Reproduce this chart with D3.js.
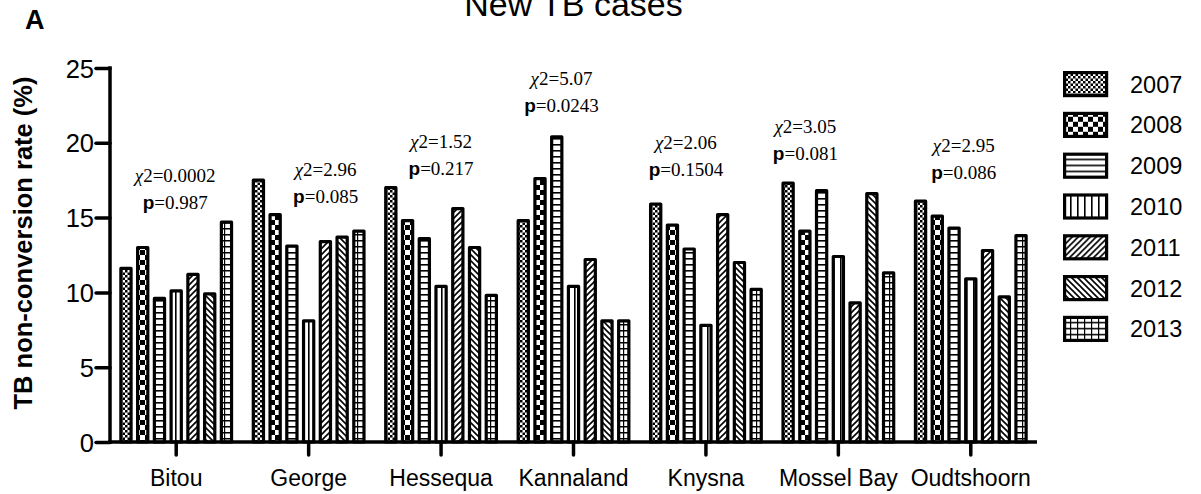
<!DOCTYPE html>
<html>
<head>
<meta charset="utf-8">
<script src="https://cdn.jsdelivr.net/npm/d3@7"></script>
<style>
  body { margin: 0; background: #fff; }
  svg { display: block; }
  text { font-family: "Liberation Sans", Arial, sans-serif; fill: #000; }
  .serif { font-family: "Liberation Serif", "Times New Roman", serif; }
</style>
</head>
<body>
<div class="graphContainer"></div>
<script>
// Chart size
const w = 1201;
const h = 494;

// Data
const districts = ["Bitou", "George", "Hessequa", "Kannaland", "Knysna", "Mossel Bay", "Oudtshoorn"];
const years = ["2007", "2008", "2009", "2010", "2011", "2012", "2013"];
const rate2007 = [11.6, 17.5, 17.0, 14.8, 15.9, 17.3, 16.1];
const rate2008 = [13.0, 15.2, 14.8, 17.6, 14.5, 14.1, 15.1];
const rate2009 = [9.6, 13.1, 13.6, 20.4, 12.9, 16.8, 14.3];
const rate2010 = [10.1, 8.1, 10.4, 10.4, 7.8, 12.4, 10.9];
const rate2011 = [11.2, 13.4, 15.6, 12.2, 15.2, 9.3, 12.8];
const rate2012 = [9.9, 13.7, 13.0, 8.1, 12.0, 16.6, 9.7];
const rate2013 = [14.7, 14.1, 9.8, 8.1, 10.2, 11.3, 13.8];
const chiValues = ["0.0002", "2.96", "1.52", "5.07", "2.06", "3.05", "2.95"];
const pValues = ["0.987", "0.085", "0.217", "0.0243", "0.1504", "0.081", "0.086"];
const yTicks = [0, 5, 10, 15, 20, 25];

// where the chi2/p labels sit: x offset from group centre (px), height in axis units
const labelDx = [-1, 17, 0, -12, -20, -33, -7];
const labelAt = [17.8, 18.2, 20.1, 24.3, 20.05, 21.1, 19.85];

const series = [rate2007, rate2008, rate2009, rate2010, rate2011, rate2012, rate2013];
const rows = [];
districts.forEach((d, i) => {
	years.forEach((yr, j) => rows.push({district: d, year: yr, value: series[j][i]}));
});

const svg = d3.select(".graphContainer").append("svg")
	.attr("width", w)
	.attr("height", h);

// ---- fill patterns (one per year)
const defs = svg.append("defs");
function pattern(id, pw, ph) {
	const p = defs.append("pattern")
		.attr("id", id)
		.attr("patternUnits", "userSpaceOnUse")
		.attr("width", pw)
		.attr("height", ph);
	p.append("rect").attr("width", pw).attr("height", ph).attr("fill", "#fff");
	return p;
}
let pt = pattern("p2007", 5, 5);
pt.append("rect").attr("width", 2.5).attr("height", 2.5).attr("fill", "#000");
pt.append("rect").attr("x", 2.5).attr("y", 2.5).attr("width", 2.5).attr("height", 2.5).attr("fill", "#000");

pt = pattern("p2008", 10, 10);
pt.append("rect").attr("width", 5).attr("height", 5).attr("fill", "#000");
pt.append("rect").attr("x", 5).attr("y", 5).attr("width", 5).attr("height", 5).attr("fill", "#000");

pt = pattern("p2009", 6, 6);
pt.append("rect").attr("width", 6).attr("height", 1.6).attr("fill", "#000");

pt = pattern("p2010", 7, 7);
pt.append("rect").attr("width", 1.6).attr("height", 7).attr("fill", "#000");

pt = pattern("p2011", 6, 6);
pt.append("path").attr("d", "M0,6L6,0M-1.5,1.5L1.5,-1.5M4.5,7.5L7.5,4.5")
	.attr("stroke", "#000").attr("stroke-width", 1.6);

pt = pattern("p2012", 6, 6);
pt.append("path").attr("d", "M0,0L6,6M-1.5,4.5L1.5,7.5M4.5,-1.5L7.5,1.5")
	.attr("stroke", "#000").attr("stroke-width", 1.6);

pt = pattern("p2013", 7, 6);
pt.append("rect").attr("width", 7).attr("height", 1.5).attr("fill", "#000");
pt.append("rect").attr("width", 1.2).attr("height", 6).attr("fill", "#000");

// ---- scales
const x0 = d3.scaleBand()
	.domain(districts)
	.range([110, 1037])
	.paddingInner(0.14)
	.paddingOuter(0.07);

const x1 = d3.scaleBand()
	.domain(years)
	.range([0, x0.bandwidth()])
	.paddingInner(0.2);

const y = d3.scaleLinear()
	.domain([0, 25])
	.range([442, 68]);

// ---- bars
svg.append("g").selectAll("rect")
	.data(rows)
	.enter()
	.append("rect")
	.attr("x", d => x0(d.district) + x1(d.year) + 1.6)
	.attr("y", d => y(d.value))
	.attr("width", x1.bandwidth() - 3.2)
	.attr("height", d => y(0) - y(d.value))
	.attr("fill", d => "url(#p" + d.year + ")")
	.attr("stroke", "#000")
	.attr("stroke-width", 3.2)
	.attr("stroke-linejoin", "round");

// ---- axes
const yAxis = d3.axisLeft(y).tickValues(yTicks).tickSize(14).tickSizeOuter(0).tickPadding(2);
const gy = svg.append("g")
	.attr("transform", "translate(110,0)")
	.call(yAxis);
gy.select(".domain").attr("stroke-width", 3.5).attr("d", "M0," + (y(25) - 1.75) + "V" + (y(0) + 1.75));
gy.selectAll(".tick line").attr("stroke-width", 3.5).attr("stroke-linecap", "round");
gy.selectAll(".tick text")
	.style("font-family", "Liberation Sans, Arial, sans-serif")
	.style("font-size", "25.5px")
	.attr("dy", "0.36em");

const xAxis = d3.axisBottom(x0).tickSize(13).tickSizeOuter(0).tickPadding(15);
const gx = svg.append("g")
	.attr("transform", "translate(0," + y(0) + ")")
	.call(xAxis);
gx.select(".domain").attr("stroke-width", 3.5).attr("d", "M108.25,0H1037");
gx.selectAll(".tick line").attr("stroke-width", 3.5).attr("stroke-linecap", "round");
gx.selectAll(".tick text")
	.style("font-family", "Liberation Sans, Arial, sans-serif")
	.style("font-size", "23px");

// ---- chi2 / p annotations
const notes = svg.append("g");
districts.forEach((d, i) => {
	const cx = x0(d) + x0.bandwidth() / 2 + labelDx[i];
	const top = y(labelAt[i]);
	const t1 = notes.append("text")
		.attr("class", "serif")
		.attr("x", cx)
		.attr("y", top + 6.5)
		.attr("text-anchor", "middle")
		.style("font-size", "19px");
	t1.append("tspan").style("font-style", "italic").text("χ");
	t1.append("tspan").text("2=" + chiValues[i]);

	const t2 = notes.append("text")
		.attr("x", cx)
		.attr("y", top + 33.5)
		.attr("text-anchor", "middle")
		.style("font-size", "19px");
	t2.append("tspan").style("font-weight", "bold").style("font-family", "Liberation Sans, Arial, sans-serif").text("p");
	t2.append("tspan").attr("class", "serif").style("font-family", "Liberation Serif, Times New Roman, serif").text("=" + pValues[i]);
});

// ---- legend
const legend = svg.append("g").attr("transform", "translate(1063,71)");
const item = legend.selectAll("g")
	.data(years)
	.enter()
	.append("g")
	.attr("transform", (d, i) => "translate(0," + i * 40.8 + ")");
item.append("rect")
	.attr("x", 1.6)
	.attr("y", 1.6)
	.attr("width", 42)
	.attr("height", 23)
	.attr("fill", d => "url(#p" + d + ")")
	.attr("stroke", "#000")
	.attr("stroke-width", 3.2);
item.append("text")
	.attr("x", 67)
	.attr("y", 21.5)
	.style("font-size", "23.5px")
	.text(d => d);

// ---- titles
svg.append("text")
	.attr("x", (110 + 1037) / 2)
	.attr("y", 16)
	.attr("text-anchor", "middle")
	.style("font-size", "34px")
	.text("New TB cases");

svg.append("text")
	.attr("x", 25)
	.attr("y", 29)
	.style("font-size", "27px")
	.style("font-weight", "bold")
	.text("A");

svg.append("text")
	.attr("transform", "translate(32,243) rotate(-90)")
	.attr("text-anchor", "middle")
	.style("font-size", "25.5px")
	.style("font-weight", "bold")
	.text("TB non-conversion rate (%)");
</script>
</body>
</html>
